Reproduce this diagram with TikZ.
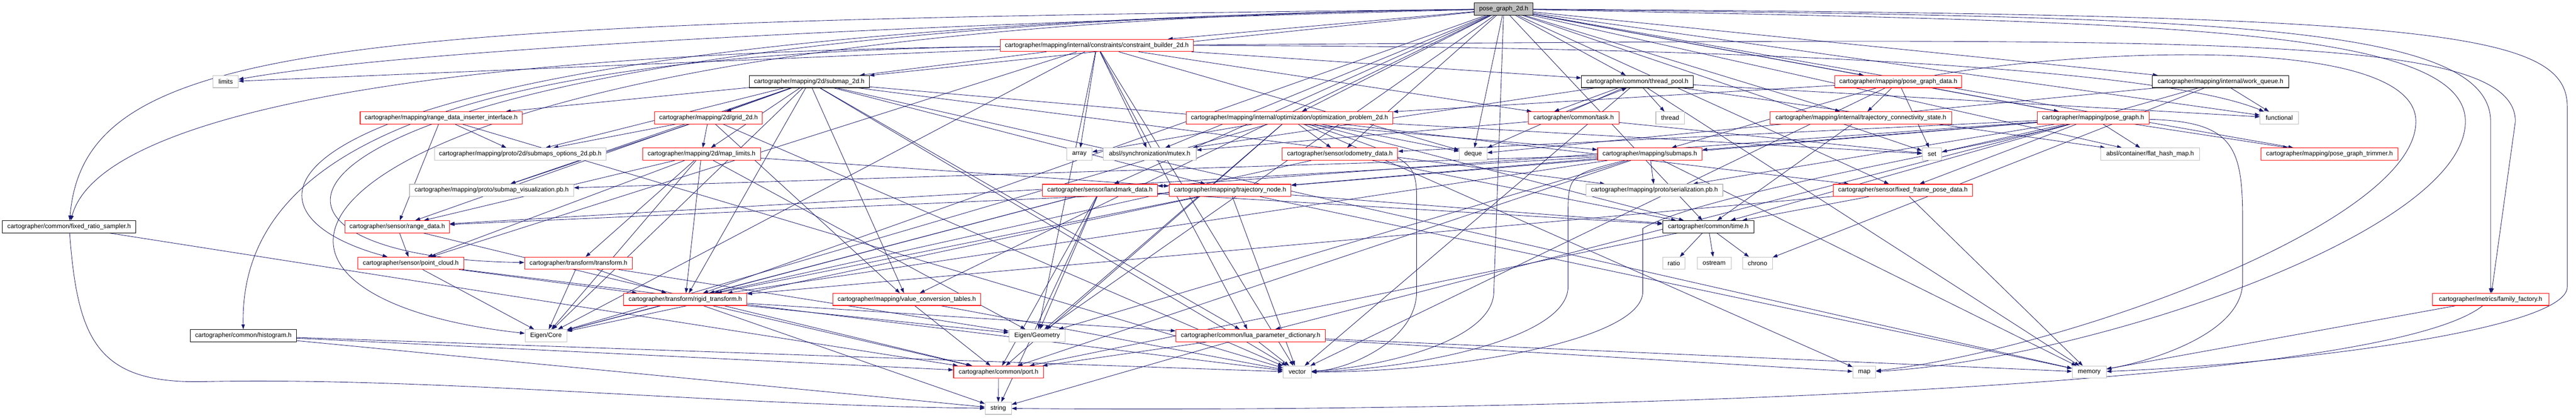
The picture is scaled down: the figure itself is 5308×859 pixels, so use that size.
\documentclass[tikz,border=0pt]{standalone}
\usepackage{fontspec}
\setmainfont{Liberation Sans}
\usetikzlibrary{arrows.meta}
\pgfdeclarelayer{bg}
\pgfdeclarelayer{edges}
\pgfsetlayers{bg,edges,main}
\definecolor{edgec}{HTML}{191970}
\definecolor{grayb}{HTML}{BFBFBF}
\newcommand\ed[2]{\draw[edgeline] (#1) -- (#2);}
\newcommand\ec[4]{\draw[edgeline] (#1) .. controls #3 and #4 .. (#2);}
\begin{document}
\begin{tikzpicture}[x=1pt,y=-1pt,
  box/.style={draw, fill=white, line width=1.2pt, inner sep=0pt, minimum height=25pt, font=\fontsize{13}{15}\selectfont},
  redbox/.style={box, draw=red},
  blackbox/.style={box, draw=black},
  graybox/.style={box, draw=grayb},
  rootbox/.style={box, draw=black, fill=grayb},
  edgeline/.style={draw=edgec, line width=0.9pt, -{Triangle[length=10pt,width=7pt]}}]
\useasboundingbox (0,0) rectangle (5308,859);
\begin{pgfonlayer}{bg}
\fill[white] (0,0) rectangle (5308,859);
\end{pgfonlayer}
\node[rootbox, minimum width=121pt] (root) at (3098.5,18.5) {pose\_graph\_2d.h};
\node[redbox, minimum width=398pt] (cb) at (2260,93.5) {cartographer/mapping/internal/constraints/constraint\_builder\_2d.h};
\node[graybox, minimum width=52pt] (limits) at (465,168) {limits};
\node[blackbox, minimum width=247pt] (submap2d) at (1667.5,168) {cartographer/mapping/2d/submap\_2d.h};
\node[blackbox, minimum width=230pt] (threadpool) at (3374,168) {cartographer/common/thread\_pool.h};
\node[redbox, minimum width=261pt] (pgdata) at (3911.5,168) {cartographer/mapping/pose\_graph\_data.h};
\node[blackbox, minimum width=281pt] (workqueue) at (4575.5,168) {cartographer/mapping/internal/work\_queue.h};
\node[redbox, minimum width=334pt] (rdii) at (909,242.5) {cartographer/mapping/range\_data\_inserter\_interface.h};
\node[redbox, minimum width=222pt] (grid2d) at (1460,242.5) {cartographer/mapping/2d/grid\_2d.h};
\node[redbox, minimum width=426pt] (opt2d) at (2657,242.5) {cartographer/mapping/internal/optimization/optimization\_problem\_2d.h};
\node[redbox, minimum width=187pt] (task) at (3242.5,242.5) {cartographer/common/task.h};
\node[graybox, minimum width=59pt] (thread) at (3441.5,242.5) {thread};
\node[redbox, minimum width=375pt] (tcs) at (3834.5,242.5) {cartographer/mapping/internal/trajectory\_connectivity\_state.h};
\node[redbox, minimum width=230pt] (posegraph) at (4313,242.5) {cartographer/mapping/pose\_graph.h};
\node[graybox, minimum width=79pt] (functional) at (4696.5,242.5) {functional};
\node[graybox, minimum width=354pt] (subopts) at (1072,317) {cartographer/mapping/proto/2d/submaps\_options\_2d.pb.h};
\node[redbox, minimum width=243pt] (maplimits) at (1445.5,317) {cartographer/mapping/2d/map\_limits.h};
\node[graybox, minimum width=52pt] (array) at (2224,317) {array};
\node[graybox, minimum width=192pt] (mutex) at (2369,317) {absl/synchronization/mutex.h};
\node[redbox, minimum width=238pt] (odom) at (2761,317) {cartographer/sensor/odometry\_data.h};
\node[graybox, minimum width=57pt] (deque) at (3035.5,317) {deque};
\node[redbox, minimum width=215pt] (submaps) at (3399.5,317) {cartographer/mapping/submaps.h};
\node[graybox, minimum width=40pt] (set) at (3981,317) {set};
\node[graybox, minimum width=203pt] (fhm) at (4430.5,317) {absl/container/flat\_hash\_map.h};
\node[redbox, minimum width=282pt] (trimmer) at (4800,317) {cartographer/mapping/pose\_graph\_trimmer.h};
\node[graybox, minimum width=338pt] (subvis) at (1013,391.5) {cartographer/mapping/proto/submap\_visualization.pb.h};
\node[redbox, minimum width=237pt] (landmark) at (2266.5,391.5) {cartographer/sensor/landmark\_data.h};
\node[redbox, minimum width=251pt] (trajnode) at (2534.5,391.5) {cartographer/mapping/trajectory\_node.h};
\node[graybox, minimum width=282pt] (serial) at (3409,391.5) {cartographer/mapping/proto/serialization.pb.h};
\node[redbox, minimum width=286pt] (ffpd) at (3921,391.5) {cartographer/sensor/fixed\_frame\_pose\_data.h};
\node[blackbox, minimum width=275pt] (frs) at (142.5,466.5) {cartographer/common/fixed\_ratio\_sampler.h};
\node[redbox, minimum width=215pt] (rangedata) at (818.5,466.5) {cartographer/sensor/range\_data.h};
\node[blackbox, minimum width=188pt] (time) at (3520,466.5) {cartographer/common/time.h};
\node[redbox, minimum width=219pt] (pointcloud) at (846.5,541.5) {cartographer/sensor/point\_cloud.h};
\node[redbox, minimum width=222pt] (transform) at (1192,541.5) {cartographer/transform/transform.h};
\node[graybox, minimum width=46pt] (ratio) at (3449,541.5) {ratio};
\node[graybox, minimum width=70pt] (ostream) at (3532,541.5) {ostream};
\node[graybox, minimum width=61pt] (chrono) at (3621.5,541.5) {chrono};
\node[redbox, minimum width=254pt] (rigid) at (1412,616) {cartographer/transform/rigid\_transform.h};
\node[redbox, minimum width=305pt] (vct) at (1868.5,616) {cartographer/mapping/value\_conversion\_tables.h};
\node[redbox, minimum width=240pt] (family) at (5132,616) {cartographer/metrics/family\_factory.h};
\node[blackbox, minimum width=219pt] (histogram) at (501.5,690.5) {cartographer/common/histogram.h};
\node[graybox, minimum width=86pt] (eigencore) at (1125,690.5) {Eigen/Core};
\node[graybox, minimum width=116pt] (eigengeom) at (2137,690.5) {Eigen/Geometry};
\node[redbox, minimum width=308pt] (lua) at (2577,690.5) {cartographer/common/lua\_parameter\_dictionary.h};
\node[redbox, minimum width=185pt] (port) at (2057.5,765.5) {cartographer/common/port.h};
\node[graybox, minimum width=58pt] (vector) at (2673,765.5) {vector};
\node[graybox, minimum width=47pt] (map) at (3841.5,765.5) {map};
\node[graybox, minimum width=70pt] (memory) at (4305,765.5) {memory};
\node[graybox, minimum width=54pt] (string) at (2057,840) {string};
\begin{pgfonlayer}{edges}
% root
\ed{root}{deque}
\ed{root}{functional}
\ec{root}{limits}{(2200,40)}{(900,90)}
\draw[edgeline] (root) .. controls (4400,45) and (5080,50) .. (5080,250) .. controls (5080,480) and (4300,740) .. (map);
\draw[edgeline] (root) .. controls (5000,30) and (5290,60) .. (5290,220) -- (5290,590) .. controls (5290,680) and (4700,750) .. (memory);
\ed{root}{set}
\draw[edgeline] (root) -- (3078,600) .. controls (3078,700) and (2850,755) .. (vector);
\ec{root}{eigencore}{(560,50)}{(300,600)}
\ed{root}{eigengeom}
\ed{root}{fhm}
\ed{root}{mutex}
\ec{root}{frs}{(700,45)}{(175,80)}
\ed{root}{threadpool}
\ed{root}{time}
\ed{root}{submap2d}
\ed{root}{cb}
\ed{root}{opt2d}
\ed{root}{tcs}
\ed{root}{workqueue}
\ed{root}{posegraph}
\ed{root}{pgdata}
\ed{root}{trimmer}
\ed{root}{vct}
\ed{root}{ffpd}
\ed{root}{landmark}
\ed{root}{odom}
\ec{root}{pointcloud}{(520,55)}{(400,420)}
\ed{root}{rigid}
\ec{root}{transform}{(470,50)}{(330,530)}
\draw[edgeline] (root) .. controls (4500,35) and (5132,40) .. (5132,250) -- (family);
% constraint builder
\ed{cb}{array}
\ed{cb}{deque}
\ec{cb}{functional}{(3600,95)}{(4450,140)}
\ed{cb}{limits}
\ed{cb}{vector}
\ed{cb}{eigencore}
\ed{cb}{eigengeom}
\ed{cb}{mutex}
\ec{cb}{frs}{(800,110)}{(200,250)}
\ec{cb}{histogram}{(900,110)}{(494,320)}
\ed{cb}{lua}
\ed{cb}{task}
\ed{cb}{threadpool}
\ed{cb}{submap2d}
\draw[edgeline] (cb) .. controls (4500,80) and (5183,60) .. (5183,250) -- (family);
\ed{cb}{pointcloud}
% submap 2d
\ed{submap2d}{memory}
\ed{submap2d}{vector}
\ed{submap2d}{eigencore}
\ed{submap2d}{lua}
\ed{submap2d}{grid2d}
\ed{submap2d}{maplimits}
\ed{submap2d}{subopts}
\ed{submap2d}{serial}
\ed{submap2d}{subvis}
\ed{submap2d}{rdii}
\ed{submap2d}{submaps}
\ed{submap2d}{trajnode}
\ed{submap2d}{vct}
\ed{submap2d}{rangedata}
\ed{submap2d}{rigid}
% thread pool
\ed{threadpool}{deque}
\ed{threadpool}{functional}
\ed{threadpool}{memory}
\ed{threadpool}{thread}
\ed{threadpool}{vector}
\ed{threadpool}{fhm}
\ed{threadpool}{mutex}
\draw[edgeline] ([xshift=-40pt]threadpool.south) -- ([xshift=-40pt]task.north);
% task
\ed{task}{set}
\ed{task}{mutex}
\draw[edgeline] ([xshift=-15pt]task.north) -- ([xshift=-22pt]threadpool.south);
% pose graph data
\draw[edgeline] (pgdata) .. controls (4300,100) and (4978,70) .. (4978,250) .. controls (4978,460) and (4250,720) .. (map);
\ed{pgdata}{set}
\ed{pgdata}{vector}
\ed{pgdata}{opt2d}
\ed{pgdata}{tcs}
\ed{pgdata}{posegraph}
\ed{pgdata}{submaps}
% work queue
\ed{workqueue}{chrono}
\ed{workqueue}{deque}
\ed{workqueue}{functional}
\ed{workqueue}{time}
% range data inserter
\ed{rdii}{rangedata}
\ed{rdii}{subopts}
\ed{rdii}{vector}
% grid 2d
\ed{grid2d}{vector}
\ed{grid2d}{maplimits}
\ed{grid2d}{subvis}
\ed{grid2d}{subopts}
\ed{grid2d}{vct}
% optimization problem
\ed{opt2d}{array}
\ed{opt2d}{deque}
\ed{opt2d}{map}
\ed{opt2d}{set}
\draw[edgeline] (opt2d) .. controls (2919,330) .. (2919,420) -- (2919,600) .. controls (2919,700) and (2780,760) .. (vector);
\ed{opt2d}{eigencore}
\ed{opt2d}{eigengeom}
\ed{opt2d}{port}
\ed{opt2d}{time}
\ed{opt2d}{ffpd}
\ed{opt2d}{odom}
% trajectory connectivity
\ed{tcs}{time}
% pose graph
\draw[edgeline] (posegraph) .. controls (4600,250) and (4621,300) .. (4621,450) -- (4621,580) .. controls (4621,690) and (4420,745) .. (memory);
\ed{posegraph}{set}
\draw[edgeline] (posegraph) .. controls (4100,300) and (3500,400) .. (3385,470) -- (3385,600) .. controls (3385,700) and (3000,765) .. (vector);
\ed{posegraph}{fhm}
\ed{posegraph}{lua}
\ed{posegraph}{trimmer}
\ed{posegraph}{serial}
\ed{posegraph}{submaps}
\ed{posegraph}{trajnode}
\ed{posegraph}{ffpd}
\ed{posegraph}{landmark}
\ed{posegraph}{odom}
% map limits
\ed{maplimits}{eigencore}
\ed{maplimits}{eigengeom}
\ed{maplimits}{trajnode}
\ed{maplimits}{pointcloud}
\ed{maplimits}{rangedata}
\ed{maplimits}{rigid}
\ed{maplimits}{transform}
% odometry
\ed{odom}{time}
\ed{odom}{rigid}
% submaps
\ed{submaps}{memory}
\draw[edgeline] (submaps) .. controls (3231,360) .. (3231,450) -- (3231,590) .. controls (3231,700) and (2900,760) .. (vector);
\ed{submaps}{eigengeom}
\ed{submaps}{port}
\ed{submaps}{serial}
\ed{submaps}{subvis}
\ed{submaps}{trajnode}
\ed{submaps}{rangedata}
\ed{submaps}{rigid}
% landmark
\ed{landmark}{string}
\ed{landmark}{eigencore}
\ed{landmark}{eigengeom}
\ed{landmark}{port}
\ed{landmark}{time}
\ed{landmark}{rigid}
% trajectory node
\ed{trajnode}{memory}
\ed{trajnode}{vector}
\ed{trajnode}{eigencore}
\ed{trajnode}{time}
\ed{trajnode}{rangedata}
\ed{trajnode}{rigid}
% fixed frame pose
\ed{ffpd}{memory}
\ed{ffpd}{time}
\ed{ffpd}{rigid}
% fixed ratio sampler
\draw[edgeline] (frs) .. controls (160,700) and (200,790) .. (420,785) .. controls (900,775) and (1500,835) .. (string);
\ed{frs}{port}
% range data
\ed{rangedata}{port}
\ed{rangedata}{pointcloud}
% time
\ed{time}{ratio}
\ed{time}{ostream}
\ed{time}{chrono}
\ed{time}{port}
% point cloud
\ed{pointcloud}{vector}
\ed{pointcloud}{eigencore}
\ed{pointcloud}{rigid}
% transform
\ed{transform}{eigencore}
\ed{transform}{eigengeom}
\ed{transform}{rigid}
% rigid transform
\ed{rigid}{eigencore}
\ed{rigid}{eigengeom}
\ed{rigid}{lua}
\ed{rigid}{port}
\ed{rigid}{string}
% value conversion tables
\ed{vct}{port}
\ed{vct}{vector}
% family factory
\ed{family}{memory}
\ec{family}{string}{(4900,800)}{(3200,850)}
% histogram
\ed{histogram}{string}
\ed{histogram}{vector}
\ed{histogram}{port}
% lua
\ed{lua}{port}
\ed{lua}{string}
\ed{lua}{vector}
\ed{lua}{map}
\ed{lua}{memory}
% port
\ed{port}{string}
\end{pgfonlayer}
\end{tikzpicture}
\end{document}
